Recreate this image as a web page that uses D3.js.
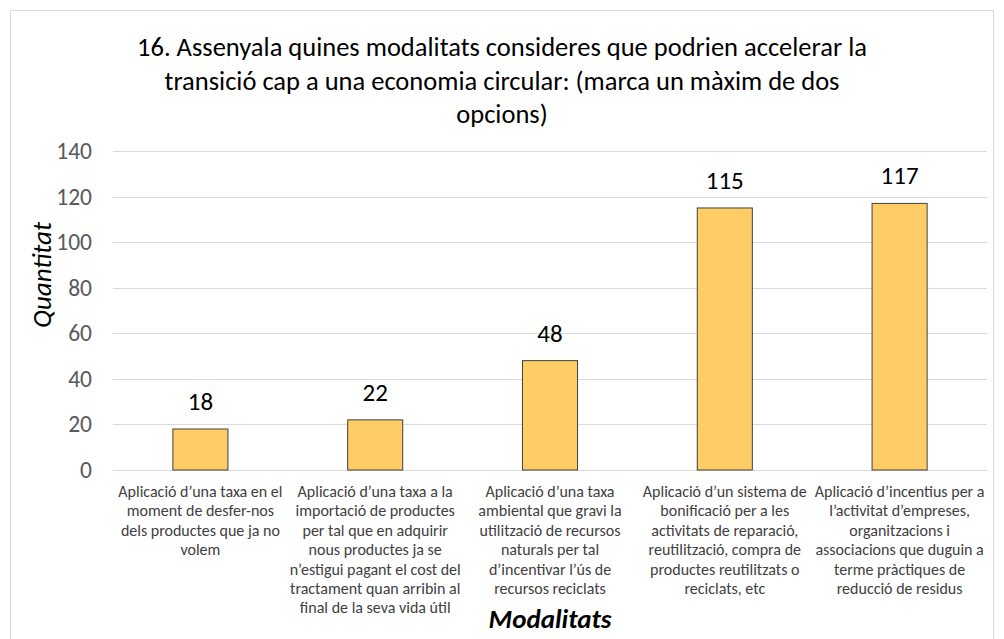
<!DOCTYPE html>
<html>
<head>
<meta charset="utf-8">
<script src="https://cdn.jsdelivr.net/npm/d3@7"></script>
<style>
  html, body { margin:0; padding:0; background:#fff; }
  svg { display:block; font-family: Carlito, Calibri, "Open Sans", sans-serif; }
</style>
</head>
<body>
<div id="chart"></div>
<script>
"use strict";
// dades del gràfic
const titleLines = [
  "16. Assenyala quines modalitats consideres que podrien accelerar la",
  "transició cap a una economia circular: (marca un màxim de dos",
  "opcions)"
];
const categories = [
  ["Aplicació d’una taxa en el", "moment de desfer-nos", "dels productes que ja no", "volem"],
  ["Aplicació d’una taxa a la", "importació de productes", "per tal que en adquirir", "nous productes ja se", "n’estigui pagant el cost del", "tractament quan arribin al", "final de la seva vida útil"],
  ["Aplicació d’una taxa", "ambiental que gravi la", "utilització de recursos", "naturals per tal", "d’incentivar l’ús de", "recursos reciclats"],
  ["Aplicació d’un sistema de", "bonificació per a les", "activitats de reparació,", "reutilització, compra de", "productes reutilitzats o", "reciclats, etc"],
  ["Aplicació d’incentius per a", "l’activitat d’empreses,", "organitzacions i", "associacions que duguin a", "terme pràctiques de", "reducció de residus"]
];
const values = [18, 22, 48, 115, 117];
const yTicks = [0, 20, 40, 60, 80, 100, 120, 140];
const yLabel = "Quantitat";
const xLabel = "Modalitats";

const W = 1004, H = 639;
const plot = { left:113, right:987, top:151, bottom:470 };
const FONT = 'Carlito, Calibri, "Open Sans", sans-serif';

const svg = d3.select("#chart").append("svg").attr("width", W).attr("height", H);

// marc del gràfic
svg.append("rect").attr("x",10.5).attr("y",10.5).attr("width",983).attr("height",660)
  .attr("fill","#fff").attr("stroke","#d9d9d9").attr("stroke-width",1);

// títol
svg.append("g").selectAll("text").data(titleLines).join("text")
  .attr("x", 502).attr("y", (d,i)=> 56 + i*33.5)
  .attr("text-anchor","middle").attr("font-size",26.5).attr("fill","#000")
  .text(d=>d);

const idx = d3.range(values.length);
const x = d3.scaleBand().domain(idx).range([plot.left, plot.right]).paddingInner(0.685).paddingOuter(0.3425);
const y = d3.scaleLinear().domain([0,140]).range([plot.bottom, plot.top]);

// graella
svg.append("g").selectAll("line").data(yTicks).join("line")
  .attr("x1", plot.left).attr("x2", plot.right)
  .attr("y1", d=>Math.round(y(d))+0.5).attr("y2", d=>Math.round(y(d))+0.5)
  .attr("stroke","#d9d9d9").attr("stroke-width",1);

// eix Y
const yAxis = svg.append("g").attr("transform",`translate(${plot.left},0)`)
  .call(d3.axisLeft(y).tickValues(yTicks).tickSize(0).tickPadding(21));
yAxis.select(".domain").remove();
yAxis.selectAll("text").attr("font-size",23.5).attr("fill","#595959").attr("font-family",FONT);

// barres
svg.append("g").selectAll("rect").data(values).join("rect")
  .attr("x",(d,i)=> x(i)).attr("width", x.bandwidth())
  .attr("y", d=> y(d)).attr("height", d=> y(0)-y(d))
  .attr("fill","#FFCC66").attr("stroke","#404040").attr("stroke-width",1);

// etiquetes de valor
svg.append("g").selectAll("text").data(values).join("text")
  .attr("x",(d,i)=> x(i)+x.bandwidth()/2).attr("y", d=> y(d)-19)
  .attr("text-anchor","middle").attr("font-size",25).attr("fill","#000")
  .text(d=>d);

// etiquetes de categoria
const cat = svg.append("g").selectAll("text").data(categories).join("text")
  .attr("text-anchor","middle").attr("font-size",16).attr("fill","#404040");
cat.selectAll("tspan").data((d,i)=> d.map(t=>({t, i}))).join("tspan")
  .attr("x", d=> x(d.i)+x.bandwidth()/2)
  .attr("y", (d,j)=> 497 + j*19.4)
  .text(d=>d.t);

// títols dels eixos
svg.append("text").attr("transform","translate(51,275) rotate(-90)")
  .attr("text-anchor","middle").attr("font-size",27).attr("font-style","italic").attr("fill","#000")
  .text(yLabel);
svg.append("text").attr("x", (plot.left+plot.right)/2).attr("y", 628)
  .attr("text-anchor","middle").attr("font-size",27).attr("font-style","italic").attr("font-weight",700).attr("fill","#000")
  .text(xLabel);
</script>
</body>
</html>
